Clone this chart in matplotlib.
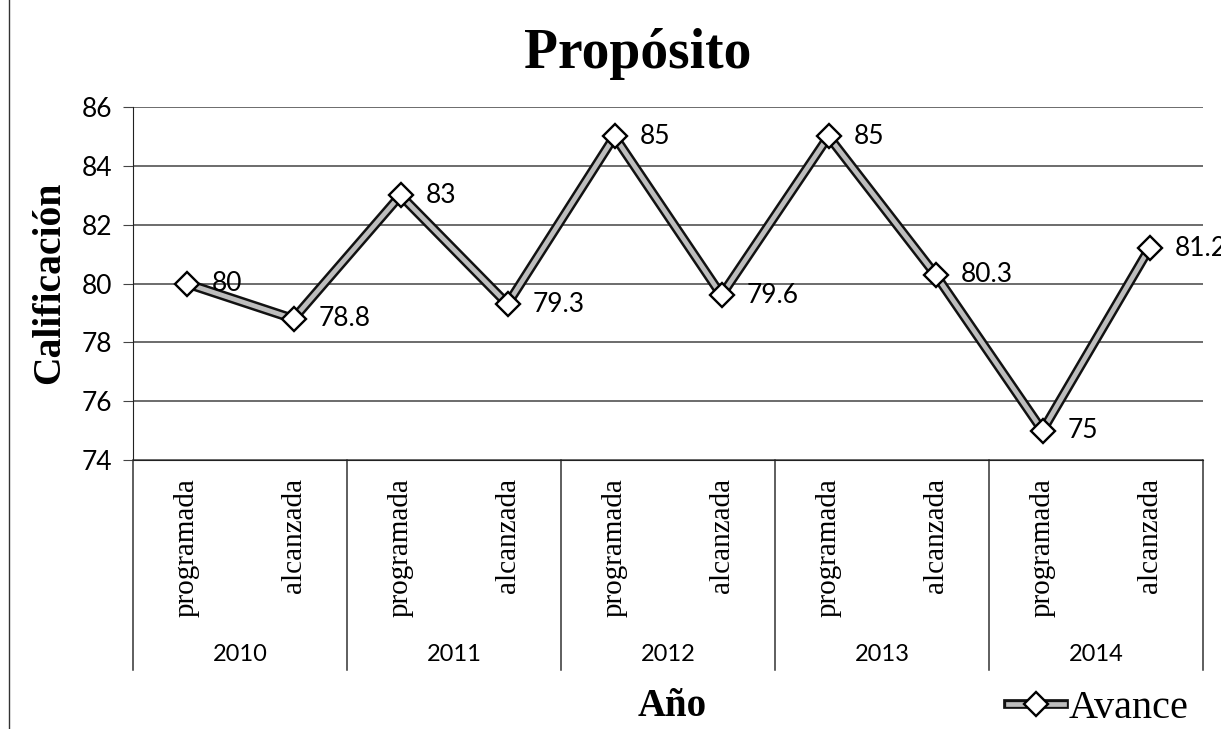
import matplotlib
matplotlib.use("Agg")
import matplotlib.pyplot as plt
import matplotlib.patheffects as pe
from matplotlib.legend_handler import HandlerTuple
from matplotlib.lines import Line2D

# data
years = ["2010", "2011", "2012", "2013", "2014"]
stages = ["programada", "alcanzada"]
avance = [80, 78.8, 83, 79.3, 85, 79.6, 85, 80.3, 75, 81.2]
value_labels = ["80", "78.8", "83", "79.3", "85", "79.6", "85", "80.3", "75", "81.2"]

cats = [s for y in years for s in stages]
xs = list(range(len(cats)))

fig = plt.figure(figsize=(12.21, 7.29), dpi=100)
ax = fig.add_axes([133 / 1221, 1 - 460 / 729, 1070 / 1221, 353 / 729])

# line: black outline with light grey core
line, = ax.plot(xs, avance, color="#bdbdbd", lw=3.4, zorder=3, solid_joinstyle="miter",
                path_effects=[pe.Stroke(linewidth=7, foreground="#111111"), pe.Normal()])
marks, = ax.plot(xs, avance, ls="none", marker="D", ms=12.5, mfc="white", mec="black",
                 mew=1.7, zorder=4)

for x, v, t in zip(xs, avance, value_labels):
    ax.annotate(t, (x, v), xytext=(18, 0), textcoords="offset points", ha="left",
                va="center", fontsize=19, family="Lato", annotation_clip=False, zorder=5)

ax.set_xlim(-0.5, len(cats) - 0.5)
ax.set_ylim(74, 86)
ax.set_yticks(range(74, 87, 2))
ax.grid(axis="y", color="#444444", lw=1.1)
ax.set_axisbelow(True)
for s in ["top", "right"]:
    ax.spines[s].set_visible(False)
ax.spines["left"].set_color("#222222")
ax.spines["bottom"].set_color("#222222")
ax.tick_params(axis="y", length=7, pad=8, labelsize=19, color="#444444")
for lab in ax.get_yticklabels():
    lab.set_family("Lato")

ax.set_xticks(xs)
ax.set_xticklabels(cats, rotation=90, family="Liberation Serif", fontsize=21, va="top")
ax.tick_params(axis="x", length=0, pad=13)

# year group separators and labels
tr = ax.get_xaxis_transform()
for k in range(len(years) + 1):
    ax.plot([k * 2 - 0.5] * 2, [0, -0.595], transform=tr, color="#333333", lw=1.1,
            clip_on=False)
for k, y in enumerate(years):
    ax.text(k * 2 + 0.5, -0.55, y, transform=tr, ha="center", va="center",
            fontsize=17, family="Lato")

fig.text(638 / 1221, 1 - 68 / 729, "Propósito", ha="center", va="baseline",
         fontsize=40, fontweight="bold", family="Liberation Serif")
fig.text(50 / 1221, 1 - 283 / 729, "Calificación", rotation=90, ha="center", va="center",
         fontsize=28.5, fontweight="bold", family="Liberation Serif")
fig.text(672 / 1221, 1 - 707 / 729, "Año", ha="center", va="center",
         fontsize=28, fontweight="bold", family="Liberation Serif")

fig.legend([(line, marks)], ["Avance"], handler_map={tuple: HandlerTuple(ndivide=1)},
           loc="center", bbox_to_anchor=(1098 / 1221, 1 - 708 / 729), frameon=False,
           prop={"family": "Liberation Serif", "size": 29}, handlelength=1.4,
           handletextpad=0.1, borderpad=0)

# page frame line on the left
fig.add_artist(Line2D([9 / 1221, 9 / 1221], [0, 1], transform=fig.transFigure,
                      color="#333333", lw=1))

fig.savefig("out.png", dpi=100)
